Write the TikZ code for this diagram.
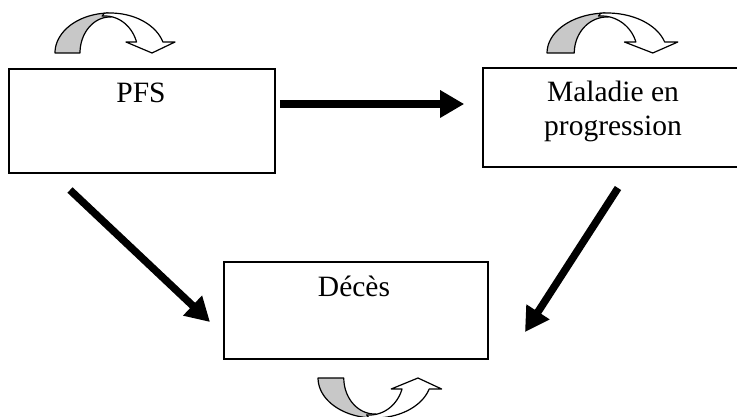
\documentclass[tikz,border=0pt]{standalone}
\usepackage{fontspec}
\setmainfont{Liberation Serif}
\usetikzlibrary{arrows.meta}
\definecolor{arrgray}{RGB}{200,200,200}
\begin{document}
\begin{tikzpicture}[x=1pt,y=-1pt,
  box/.style={draw=black, line width=1.6pt, rectangle, inner sep=0pt},
  lbl/.style={font=\fontsize{29.5}{34}\selectfont, anchor=base, inner sep=0pt},
  bigarrow/.style={line width=7.5pt, -{Triangle[length=24pt,width=26pt]}},
  arrline/.style={draw=black, line width=1.2pt, line join=round},
  curvedarr/.pic={
    \filldraw[arrline, fill=arrgray]
      plot[domain=180:268, samples=40] ({55*cos(\x)},{40*sin(\x)})
      -- plot[domain=272:180, samples=40] ({30*cos(\x)},{36*sin(\x)}) -- cycle;
    \filldraw[arrline, fill=white]
      plot[domain=264:344, samples=40] ({55*cos(\x)},{40*sin(\x)})
      -- (65,-11) -- (42,0) -- (16,-11)
      -- plot[domain=342.7:265, samples=40] ({-5+33*cos(\x)},{37*sin(\x)}) -- cycle;
  }]
\useasboundingbox (0,0) rectangle (737,417);
\clip (0,0) rectangle (737,417);

% boxes
\node[box, minimum width=266pt, minimum height=104pt] (pfs) at (142,121) {};
\node[box, minimum width=262pt, minimum height=99pt] (maladie) at (614,117.5) {};
\node[box, minimum width=264pt, minimum height=97pt] (deces) at (356,310.5) {};

% labels
\node[lbl] (tpfs) at (141,103) {PFS};
\node[lbl] (tmal1) at (613,102) {Maladie en};
\node[lbl] (tmal2) at (613,135.5) {progression};
\node[lbl] (tdec) at (354,296) {Décès};

% straight arrows
\draw[bigarrow, shorten <=4pt, shorten >=18pt]
  ([yshift=17pt]pfs.east) -- ([yshift=13.5pt]maladie.west);
\coordinate (d1s) at (70,190);
\coordinate (d1e) at (210,322);
\coordinate (d2s) at (618,188);
\coordinate (d2e) at (525,332);
\draw[bigarrow] (d1s) -- (d1e);
\draw[bigarrow] (d2s) -- (d2e);

% curved self-loop arrows
\pic (c1) at (110,53) {curvedarr};
\pic[xscale=1.09] (c2) at (607,53) {curvedarr};
\pic[xscale=1.03, yscale=-1] (c3) at (374.7,378) {curvedarr};
\end{tikzpicture}
\end{document}
